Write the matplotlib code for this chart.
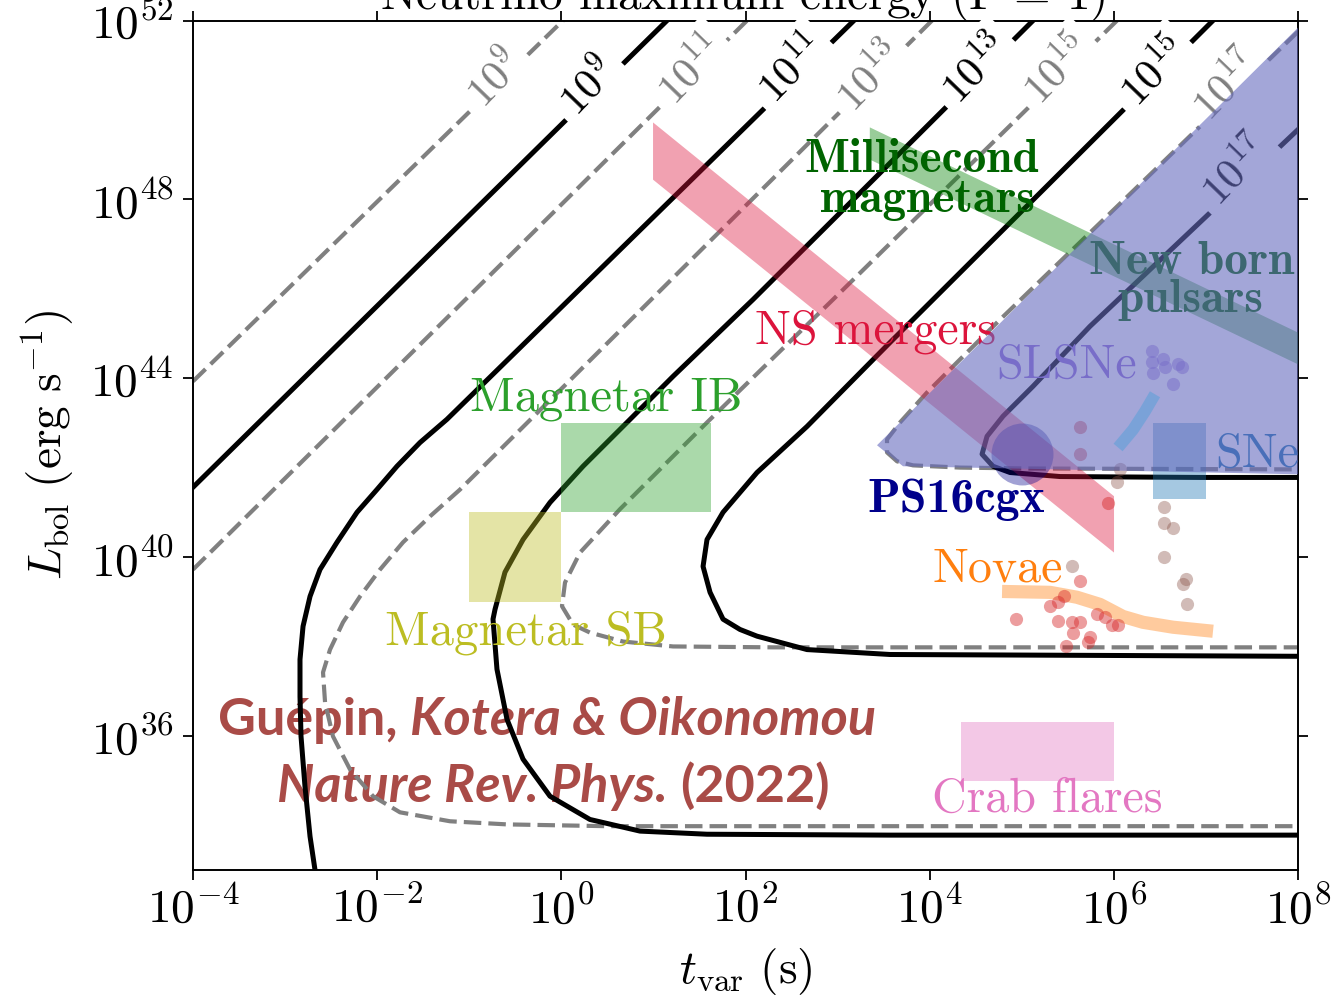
import numpy as np
import matplotlib
matplotlib.use("Agg")
import matplotlib.pyplot as plt

plt.rcParams['font.family'] = 'serif'
plt.rcParams['font.serif'] = ['cmr10']
plt.rcParams['mathtext.fontset'] = 'cm'
plt.rcParams['axes.formatter.use_mathtext'] = True
plt.rcParams['axes.unicode_minus'] = False

# ---------------- data (log10 t [s], log10 L [erg/s]) ----------------
XTICKS = [1e-4, 1e-2, 1e0, 1e2, 1e4, 1e6, 1e8]
YTICKS = [1e36, 1e40, 1e44, 1e48, 1e52]
LEVELS = [9, 11, 13, 15, 17]

# dashed (grey) contours
G9_T = [-4.0, 0.018]
G9_L = [43.93, 52.0]
G11_T = [-4.0, 2.017]
G11_L = [39.72, 52.0]
G13_T = [4.026, -1.100, -1.426, -1.719, -1.969, -2.186, -2.371, -2.512, -2.588, -2.566,
         -2.480, -2.295, -2.045, -1.752, -1.209, -0.590, 0.496, 8.0]
G13_L = [52.0, 41.51, 40.91, 40.33, 39.72, 39.12, 38.54, 37.93, 37.42, 36.75,
         35.99, 35.25, 34.65, 34.29, 34.09, 34.02, 33.98, 33.98]
G15_T = [6.035, 2.951, 1.582, 0.637, 0.203, 0.040, 0.007, 0.127, 0.311, 0.670, 1.213, 2.299, 8.0]
G15_L = [52.0, 45.76, 43.01, 41.07, 40.10, 39.43, 38.90, 38.49, 38.31, 38.11, 38.00, 37.98, 37.98]
G17_T = [8.0, 4.764, 4.330, 3.971, 3.678, 3.537, 3.537, 3.646, 3.819, 4.330, 5.057, 8.0]
G17_L = [51.75, 45.31, 44.42, 43.68, 43.01, 42.63, 42.34, 42.14, 42.05, 42.00, 41.98, 41.96]

# solid (black) contours
B9_T = [-4.0, 1.148]
B9_L = [41.56, 52.0]
B11_T = [3.178, -1.242, -1.535, -1.785, -2.002, -2.219, -2.436, -2.621, -2.729, -2.805,
         -2.838, -2.838, -2.827, -2.784, -2.729, -2.675]
B11_L = [52.0, 43.08, 42.56, 42.03, 41.51, 41.00, 40.33, 39.72, 39.12, 38.45,
         37.71, 36.88, 35.99, 34.87, 33.75, 33.0]
B13_T = [5.123, 2.082, 1.213, 0.713, 0.236, -0.123, -0.416, -0.612, -0.720, -0.742, -0.699,
         -0.590, -0.416, -0.123, 0.311, 0.854, 1.582, 3.570, 8.0]
B13_L = [52.0, 45.76, 44.04, 43.01, 42.03, 41.22, 40.39, 39.66, 38.83, 38.61, 37.49,
         36.37, 35.48, 34.65, 34.13, 33.87, 33.80, 33.78, 33.78]
B15_T = [7.077, 3.570, 2.668, 2.125, 1.756, 1.582, 1.539, 1.615, 1.756, 1.940, 2.125, 2.668,
         3.570, 8.0]
B15_L = [52.0, 44.80, 42.92, 41.89, 41.00, 40.39, 39.79, 39.21, 38.61, 38.38, 38.23, 37.93,
         37.82, 37.78]
B17_T = [8.0, 5.741, 5.123, 4.797, 4.623, 4.569, 4.688, 4.873, 5.416, 6.936, 8.0]
B17_L = [49.56, 45.16, 43.82, 43.15, 42.70, 42.30, 42.03, 41.89, 41.80, 41.78, 41.78]

# contour label positions
GLAB_T = [-0.709, 1.408, 3.363, 5.394, 7.229]
GLAB_L = [50.68, 50.88, 50.73, 50.88, 50.52]
BLAB_T = [0.301, 2.505, 4.503, 6.437, 7.327]
BLAB_L = [50.52, 50.90, 50.90, 50.84, 48.62]

# source classes
NSM_T = [0.996, 0.996, 6.002, 6.002]
NSM_L = [49.72, 48.44, 40.10, 41.36]
MSM_T = [3.35, 3.35, 8.0, 8.0]
MSM_L = [49.61, 48.89, 44.31, 45.02]
PULSAR_T = [8.0, 3.428, 3.711, 8.0]
PULSAR_L = [51.84, 42.50, 42.03, 41.85]
MAG_IB_T = [0.0, 1.62]
MAG_IB_L = [41.0, 43.0]
MAG_SB_T = [-1.0, 0.0]
MAG_SB_L = [39.0, 41.0]
CRAB_T = [4.34, 6.0]
CRAB_L = [35.0, 36.3]
SNE_T = [6.43, 7.0]
SNE_L = [41.3, 43.0]
NOVAE_T = [4.786, 5.307, 5.600, 5.850, 6.100, 6.317, 6.643, 7.077]
NOVAE_L = [39.23, 39.21, 39.10, 38.94, 38.67, 38.54, 38.43, 38.34]
SNARC_T = [6.046, 6.209, 6.339, 6.447]
SNARC_L = [42.45, 42.85, 43.26, 43.64]
PS16_T = [5.003]
PS16_L = [42.30]
SLSN_T = [6.415, 6.415, 6.534, 6.556, 6.697, 6.741, 6.426, 6.643]
SLSN_L = [44.60, 44.37, 44.42, 44.26, 44.31, 44.24, 44.11, 43.86]
RED_T = [5.633, 5.633, 5.937, 5.633, 5.459, 5.394, 5.307, 4.938, 5.394, 5.546, 5.633,
         5.557, 5.742, 5.720, 5.481, 5.817, 5.904, 5.980, 6.046]
RED_L = [42.90, 42.30, 41.20, 39.46, 39.12, 38.99, 38.90, 38.61, 38.56, 38.54, 38.54,
         38.31, 38.22, 38.09, 38.00, 38.72, 38.65, 38.49, 38.49]
BROWN_T = [6.067, 6.035, 6.545, 6.545, 6.643, 6.545, 6.784, 6.751, 6.795, 5.546]
BROWN_L = [41.96, 41.67, 41.11, 40.77, 40.64, 40.01, 39.50, 39.39, 38.96, 39.79]


def p(a):
    return 10.0 ** np.asarray(a, dtype=float)


fig = plt.figure(figsize=(13.42, 10.0), dpi=100)
ax = fig.add_axes([193 / 1342, 130 / 1000, 1105 / 1342, 849.5 / 1000])
ax.set_xscale('log')
ax.set_yscale('log')
ax.set_xlim(1e-4, 1e8)
ax.set_ylim(1e33, 1e52)

# contours
dash = (0, (4.2, 1.7))
for t, L in [(G9_T, G9_L), (G11_T, G11_L), (G13_T, G13_L), (G15_T, G15_L), (G17_T, G17_L)]:
    ax.plot(p(t), p(L), color='gray', lw=3.0, ls=dash, zorder=2)
for t, L in [(B9_T, B9_L), (B11_T, B11_L), (B13_T, B13_L), (B15_T, B15_L), (B17_T, B17_L)]:
    ax.plot(p(t), p(L), color='black', lw=3.6, zorder=2.1)

lab_box = dict(boxstyle='square,pad=0.22', fc='white', ec='none')
for lev, t, L in zip(LEVELS, GLAB_T, GLAB_L):
    ax.text(p(t), p(L), r'$10^{%d}$' % lev, color='gray', fontsize=31, rotation=46,
            ha='center', va='center', rotation_mode='anchor', bbox=lab_box, zorder=3)
for lev, t, L in zip(LEVELS, BLAB_T, BLAB_L):
    ax.text(p(t), p(L), r'$\mathbf{10^{%d}}$' % lev, color='black', fontsize=31, rotation=46,
            ha='center', va='center', rotation_mode='anchor', bbox=lab_box, zorder=3)

# bands and boxes
ax.fill(p(NSM_T), p(NSM_L), color='crimson', alpha=0.4, lw=0, zorder=3.5)
ax.fill(p(MSM_T), p(MSM_L), color='green', alpha=0.4, lw=0, zorder=3.5)


def box(t, L, c):
    ax.fill(p([t[0], t[1], t[1], t[0]]), p([L[0], L[0], L[1], L[1]]),
            color=c, alpha=0.4, lw=0, zorder=3.5)


box(MAG_IB_T, MAG_IB_L, 'tab:green')
box(MAG_SB_T, MAG_SB_L, 'tab:olive')
box(CRAB_T, CRAB_L, 'tab:pink')
box(SNE_T, SNE_L, 'tab:blue')

ax.plot(p(NOVAE_T), p(NOVAE_L), color='tab:orange', alpha=0.4, lw=9.5,
        solid_capstyle='butt', zorder=4)
ax.scatter(p(RED_T), p(RED_L), s=90, color='tab:red', alpha=0.45, lw=0, zorder=4)
ax.scatter(p(BROWN_T), p(BROWN_L), s=90, color='tab:brown', alpha=0.4, lw=0, zorder=4)
ax.scatter(p(SLSN_T), p(SLSN_L), s=90, color='mediumpurple', alpha=0.5, lw=0, zorder=4)
ax.scatter(p(PS16_T), p(PS16_L), s=1990, color='darkblue', alpha=0.37, lw=0, zorder=4.5)

# new born pulsar region (on top)
ax.fill(p(PULSAR_T), p(PULSAR_L), color='#666bbe', alpha=0.6, lw=0, zorder=6)
ax.plot(p(SNARC_T), p(SNARC_L), color='#5fa0d8', alpha=0.6, lw=8.5,
        solid_capstyle='butt', zorder=7)


# class labels
def lab(t, L, s, c, ha='left', bold=False, size=34.5):
    fam = 'cmb10' if bold else 'cmr10'
    ax.text(p(t), p(L), s, color=c, fontsize=size, ha=ha, va='baseline',
            family=fam, zorder=5)


lab(-0.992, 43.28, 'Magnetar IB', 'tab:green', size=35)
lab(-1.915, 38.05, 'Magnetar SB', 'tab:olive', size=35)
lab(2.103, 44.78, 'NS mergers', 'crimson')
lab(3.917, 48.62, 'Millisecond', 'darkgreen', ha='center', bold=True, size=34)
lab(3.971, 47.71, 'magnetars', 'darkgreen', ha='center', bold=True, size=34)
lab(6.849, 46.32, 'New born', 'darkgreen', ha='center', bold=True, size=34)
lab(6.828, 45.47, 'pulsars', 'darkgreen', ha='center', bold=True, size=34)
lab(4.721, 44.02, 'SLSNe', 'mediumpurple')
lab(7.099, 42.03, 'SNe', 'tab:blue')
lab(3.320, 41.00, 'PS16cgx', 'darkblue', bold=True, size=34.5)
lab(4.026, 39.46, 'Novae', 'tab:orange')
lab(4.026, 34.31, 'Crab flares', 'tab:pink')

# credit
cc = '#a94b47'
fam = ['Lato', 'DejaVu Sans']
fs = 37.5
t1 = ax.text(0.0226, 0.1589, 'Guépin,', transform=ax.transAxes, fontsize=fs, color=cc,
             family=fam, weight='bold', va='baseline', ha='left', zorder=1)
ax.annotate('Kotera & Oikonomou', xy=(1, 0), xycoords=t1, xytext=(9, 0),
            textcoords='offset points', fontsize=fs, color=cc, family=fam, weight='bold',
            style='italic', va='bottom', ha='left', zorder=1)
t3 = ax.text(0.076, 0.080, 'Nature Rev. Phys.', transform=ax.transAxes, fontsize=fs, color=cc,
             family=fam, weight='bold', style='italic', va='baseline', ha='left', zorder=1)
ax.annotate('(2022)', xy=(1, 0), xycoords=t3, xytext=(9, 0),
            textcoords='offset points', fontsize=fs, color=cc, family=fam, weight='bold',
            va='bottom', ha='left', zorder=1)

# axes styling
ax.set_xticks(XTICKS)
ax.set_yticks(YTICKS)
ax.xaxis.set_minor_locator(matplotlib.ticker.NullLocator())
ax.yaxis.set_minor_locator(matplotlib.ticker.NullLocator())
ax.tick_params(which='major', direction='out', length=7, width=1.3, labelsize=34,
               top=True, right=True)
ax.tick_params(axis='x', pad=4)
ax.tick_params(axis='y', pad=7)
for s in ax.spines.values():
    s.set_linewidth(1.4)

ax.set_xlabel(r'$t_{\rm var}\ (\mathrm{s})$', fontsize=34)
ax.xaxis.label.set_va('baseline')
ax.xaxis.set_label_coords(0.5, -0.133)
ax.set_ylabel(r'$L_{\rm bol}\ (\mathrm{erg\ s}^{-1})$', fontsize=34)
ax.yaxis.set_label_coords(-0.105, 0.5)

fig.text(743 / 1342, 0.991, r'Neutrino maximum energy ($\Gamma$ = 1)', fontsize=34,
         ha='center', va='baseline')

fig.savefig('out.png', dpi=100)
